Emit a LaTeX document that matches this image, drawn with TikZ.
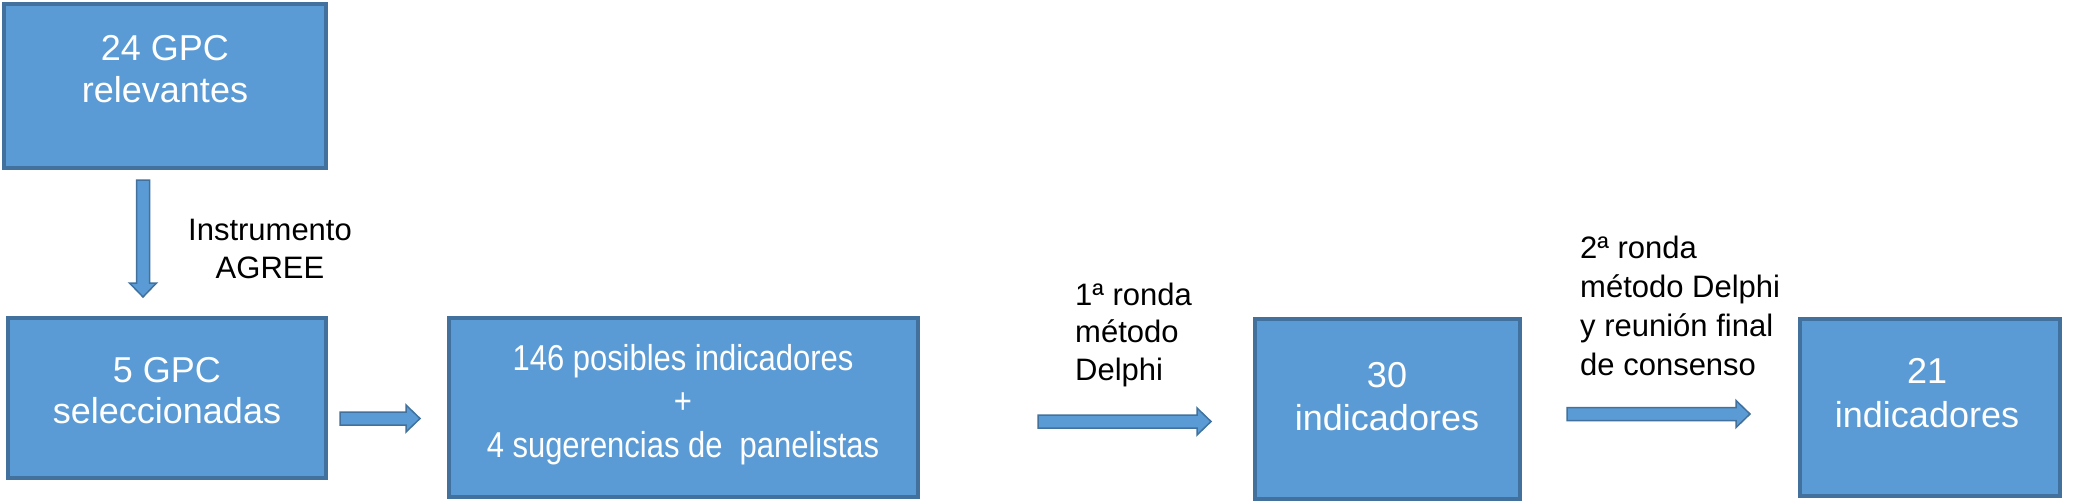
\documentclass[tikz,border=0pt]{standalone}
\usepackage{fontspec}
\setmainfont{Liberation Sans}
\newfontfamily\condfont{Liberation Sans}[FakeStretch=0.86]
\usetikzlibrary{calc}
\definecolor{boxfill}{HTML}{5B9BD5}
\definecolor{boxborder}{HTML}{41719C}
\tikzset{
  box/.style={draw=boxborder, fill=boxfill, line width=4pt, rectangle, inner sep=0pt},
  boxtext/.style={text=white, align=center, anchor=base, inner sep=0pt,
    font=\fontsize{36}{42}\selectfont},
  lbl/.style={text=black, anchor=base, inner sep=0pt,
    font=\fontsize{31}{38.5}\selectfont},
  harrow/.style={draw=boxborder, fill=boxfill, line width=1.5pt,
    to path={let \p1=(\tikztostart), \p2=(\tikztotarget) in
      (\x1,\y1+6.5pt) -- (\x2-14pt,\y1+6.5pt) -- (\x2-14pt,\y1+13.5pt) -- (\x2,\y1)
      -- (\x2-14pt,\y1-13.5pt) -- (\x2-14pt,\y1-6.5pt) -- (\x1,\y1-6.5pt) -- cycle}},
  varrow/.style={draw=boxborder, fill=boxfill, line width=1.5pt,
    to path={let \p1=(\tikztostart), \p2=(\tikztotarget) in
      (\x1-6.5pt,\y1) -- (\x1-6.5pt,\y2+14pt) -- (\x1-13.5pt,\y2+14pt) -- (\x1,\y2)
      -- (\x1+13.5pt,\y2+14pt) -- (\x1+6.5pt,\y2+14pt) -- (\x1+6.5pt,\y1) -- cycle}}
}
\begin{document}
\begin{tikzpicture}[x=1pt,y=-1pt]
\useasboundingbox (0,0) rectangle (2084,503);
\fill[white] (0,0) rectangle (2084,503);

% boxes
\node[box, minimum width=322pt, minimum height=164pt] (b1) at (165,86) {};
\node[box, minimum width=318pt, minimum height=160pt] (b2) at (167,398) {};
\node[box, minimum width=469pt, minimum height=179pt] (b3) at (683.5,407.5) {};
\node[box, minimum width=265pt, minimum height=180pt] (b4) at (1387.5,409) {};
\node[box, minimum width=260pt, minimum height=177pt] (b5) at (1930,407.5) {};

% box texts (anchor = baseline of last line)
\node[boxtext] (t1) at (165,102) {24 GPC\\relevantes};
\node[boxtext, font=\fontsize{36}{41}\selectfont] (t2) at (167,423) {5 GPC\\seleccionadas};
\node[boxtext, font=\condfont\fontsize{36}{43.5}\selectfont] (t3) at (683,457)
  {146 posibles indicadores\\+\\4 sugerencias de\ \ panelistas};
\node[boxtext, font=\fontsize{36}{43}\selectfont] (t4) at (1387,430) {30\\indicadores};
\node[boxtext, font=\fontsize{36}{44}\selectfont] (t5) at (1927,427) {21\\indicadores};

% labels
\node[lbl, align=center, font=\fontsize{31}{38}\selectfont] (l1) at (270,278) {Instrumento\\AGREE};
\node[lbl, align=left, font=\fontsize{31}{37.5}\selectfont, anchor=base west] (l2) at (1075,380) {1ª ronda\\método\\Delphi};
\node[lbl, align=left, font=\fontsize{31}{39}\selectfont, anchor=base west] (l3) at (1580,375) {2ª ronda\\método Delphi\\y reunión final\\de consenso};

% arrow end points
\coordinate (a1s) at (143,180);
\coordinate (a1e) at (143,297);
\coordinate (a2s) at (340,418.5);
\coordinate (a2e) at (420,418.5);
\coordinate (a3s) at (1038,421.5);
\coordinate (a3e) at (1211,421.5);
\coordinate (a4s) at (1567,414);
\coordinate (a4e) at (1750,414);

% connectors
\path[varrow] (a1s) to (a1e);
\path[harrow] (a2s) to (a2e);
\path[harrow] (a3s) to (a3e);
\path[harrow] (a4s) to (a4e);
\end{tikzpicture}
\end{document}
